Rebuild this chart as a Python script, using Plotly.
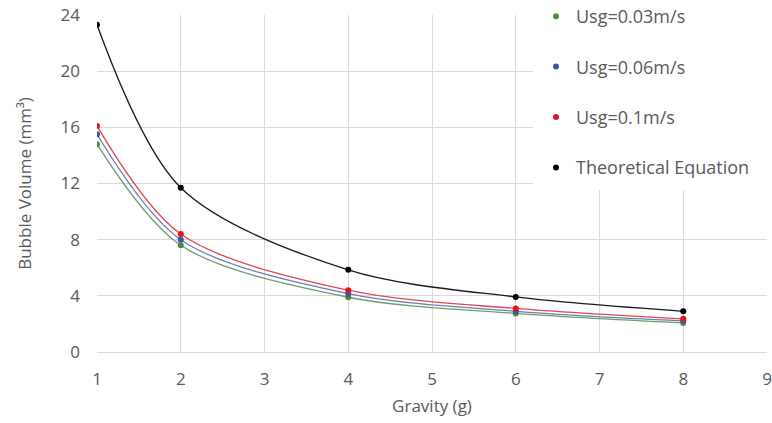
import plotly.graph_objects as go

gravity = [1, 2, 4, 6, 8]
usg_003 = [14.8, 7.6, 3.9, 2.75, 2.07]
usg_006 = [15.5, 8.0, 4.15, 2.9, 2.22]
usg_010 = [16.1, 8.4, 4.4, 3.1, 2.36]
theory = [23.3, 11.7, 5.85, 3.92, 2.9]

names = ["Usg=0.03m/s", "Usg=0.06m/s", "Usg=0.1m/s", "Theoretical Equation"]
series = [usg_003, usg_006, usg_010, theory]
marker_colors = ["#4E8A3E", "#3A56A0", "#E3131B", "#000000"]
line_colors = ["#6E9C6A", "#6383B5", "#E0474E", "#1A1A1A"]

x_ticks = [1, 2, 3, 4, 5, 6, 7, 8, 9]
y_ticks = [0, 4, 8, 12, 16, 20, 24]

fig = go.Figure()
for i, (nm, ys) in enumerate(zip(names, series)):
    fig.add_trace(go.Scatter(
        x=gravity, y=ys, mode="lines", line=dict(color=line_colors[i], width=1.3, shape="spline", smoothing=0.9),
        showlegend=False, hoverinfo="skip"))
for i, (nm, ys) in enumerate(zip(names, series)):
    fig.add_trace(go.Scatter(
        x=gravity, y=ys, mode="markers", name=nm, legendgroup=f"g{i}",
        marker=dict(color=marker_colors[i], size=6)))

gray = "#595959"
W, H, L, R, T, B = 772, 423, 97, 5, 15, 71
pw, ph = W - L - R, H - T - B

# white legend box hiding the gridlines behind the legend
fig.add_shape(type="rect", xref="paper", yref="paper",
              x0=(533 - L) / pw, x1=(W - L) / pw, y0=1 - (190 - T) / ph, y1=1 + T / ph,
              fillcolor="white", line=dict(width=0), layer="above")

fig.update_layout(
    width=W, height=H,
    margin=dict(l=L, r=R, t=T, b=B, autoexpand=False),
    paper_bgcolor="white", plot_bgcolor="white",
    font=dict(family="Open Sans, Liberation Sans, sans-serif", size=17, color=gray),
    xaxis=dict(range=[1, 9], tickvals=x_ticks, showgrid=True, gridcolor="#D9D9D9", gridwidth=1,
               zeroline=False, showline=True, linecolor="#D9D9D9", ticks="",
               ticklabelstandoff=12,
               title=dict(text="Gravity (g)", font=dict(size=17, color=gray), standoff=10),
               tickfont=dict(size=17, color=gray)),
    yaxis=dict(range=[0, 24], tickvals=y_ticks, showgrid=True, gridcolor="#D9D9D9", gridwidth=1,
               zeroline=False, showline=False, ticks="",
               ticklabelstandoff=16,
               title=dict(text="Bubble Volume (mm³)", font=dict(size=17, color=gray), standoff=24),
               tickfont=dict(size=17, color=gray)),
    legend=dict(x=(536 - L) / pw, y=1 + (T + 2) / ph, xanchor="left", yanchor="top",
                bgcolor="rgba(0,0,0,0)", borderwidth=0, font=dict(size=18, color=gray),
                tracegroupgap=24, itemsizing="trace"),
)
fig.write_html("out.html")
